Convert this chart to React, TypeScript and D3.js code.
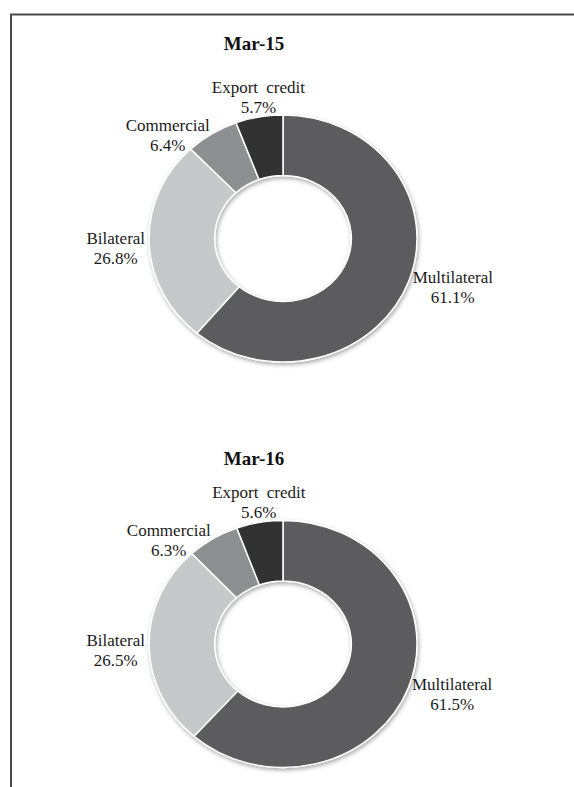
import React from "react";
import * as d3 from "d3";

// share of external debt by creditor type
const categories = ["Multilateral", "Bilateral", "Commercial", "Export credit"];
const mar15 = [61.1, 26.8, 6.4, 5.7];
const mar16 = [61.5, 26.5, 6.3, 5.6];
const titles = ["Mar-15", "Mar-16"];
const colors = ["#5b5c5e", "#c7c8c9", "#8e8f91", "#313131"];

const W = 574;
const H = 787;
const CX = 283;
const TITLE_X = 254;
const TITLE_Y = [50, 465];
const CENTER_Y = [238.5, 644];
const R_OUT = 123.5;
const R_IN = 63;
const SX = 1.085; // the source image is a bit wider than tall
const FONT = "'Liberation Serif', 'Times New Roman', serif";
const FS = 17;
const LINE = 20;

let ctx: CanvasRenderingContext2D | null = null;
const textWidth = (s: string) => {
  if (!ctx) ctx = document.createElement("canvas").getContext("2d");
  if (!ctx) return s.length * 7.5;
  ctx.font = `${FS}px ${FONT}`;
  return ctx.measureText(s).width;
};

const Donut: React.FC<{ values: number[]; title: string; cy: number; ty: number }> = ({
  values,
  title,
  cy,
  ty,
}) => {
  const pie = d3.pie<number>().sort(null).value((d) => d);
  const arcs = pie(values);
  const arc = d3.arc<d3.PieArcDatum<number>>().innerRadius(R_IN).outerRadius(R_OUT);
  const fmt = d3.format(".1f");
  const gap = 4;

  return (
    <g>
      <text
        x={TITLE_X}
        y={ty}
        textAnchor="middle"
        fontFamily={FONT}
        fontWeight="bold"
        fontSize={19}
        fill="#111"
      >
        {title}
      </text>
      <g transform={`translate(${CX},${cy}) scale(${SX},1)`} filter="url(#shadow)">
        {arcs.map((a, i) => (
          <path key={i} d={arc(a) || ""} fill={colors[i]} stroke="#fff" strokeWidth={1.4} />
        ))}
      </g>
      {arcs.map((a, i) => {
        const mid = (a.startAngle + a.endAngle) / 2;
        const s = Math.sin(mid);
        const c = -Math.cos(mid);
        const px = CX + (R_OUT * SX + gap) * s;
        const py = cy + (R_OUT + gap) * c;
        const l1 = categories[i];
        const l2 = `${fmt(values[i])}%`;
        const w = Math.max(textWidth(l1), textWidth(l2));
        const h = LINE + 12;
        let bx = px;
        let bcy = py;
        if (Math.abs(s) > 0.5) {
          // side labels sit a little below the slice's mid line
          bx = px + Math.sign(s) * (w / 2);
          bcy = py + 5;
        } else {
          bcy = py + Math.sign(c) * (h / 2);
        }
        const base = bcy - h / 2 + 12;
        return (
          <text
            key={i}
            textAnchor="middle"
            fontFamily={FONT}
            fontSize={FS}
            fill="#1a1a1a"
            wordSpacing={i === 3 ? 4 : 0}
          >
            <tspan x={bx} y={base}>
              {l1}
            </tspan>
            <tspan x={bx} y={base + LINE}>
              {l2}
            </tspan>
          </text>
        );
      })}
    </g>
  );
};

export default function App() {
  const series = [mar15, mar16];
  return (
    <svg
      width={W}
      height={H}
      style={{ position: "absolute", left: 0, top: 0, background: "#fff" }}
    >
      <defs>
        <filter id="shadow" x="-20%" y="-20%" width="140%" height="140%">
          <feDropShadow dx={1} dy={2} stdDeviation={2} floodColor="#000" floodOpacity={0.35} />
        </filter>
      </defs>
      <rect width={W} height={H} fill="#fff" />
      <path d={`M11,${H} V14.5 H${W}`} fill="none" stroke="#4a4a4a" strokeWidth={2} />
      {series.map((v, k) => (
        <Donut key={k} values={v} title={titles[k]} cy={CENTER_Y[k]} ty={TITLE_Y[k]} />
      ))}
    </svg>
  );
}
